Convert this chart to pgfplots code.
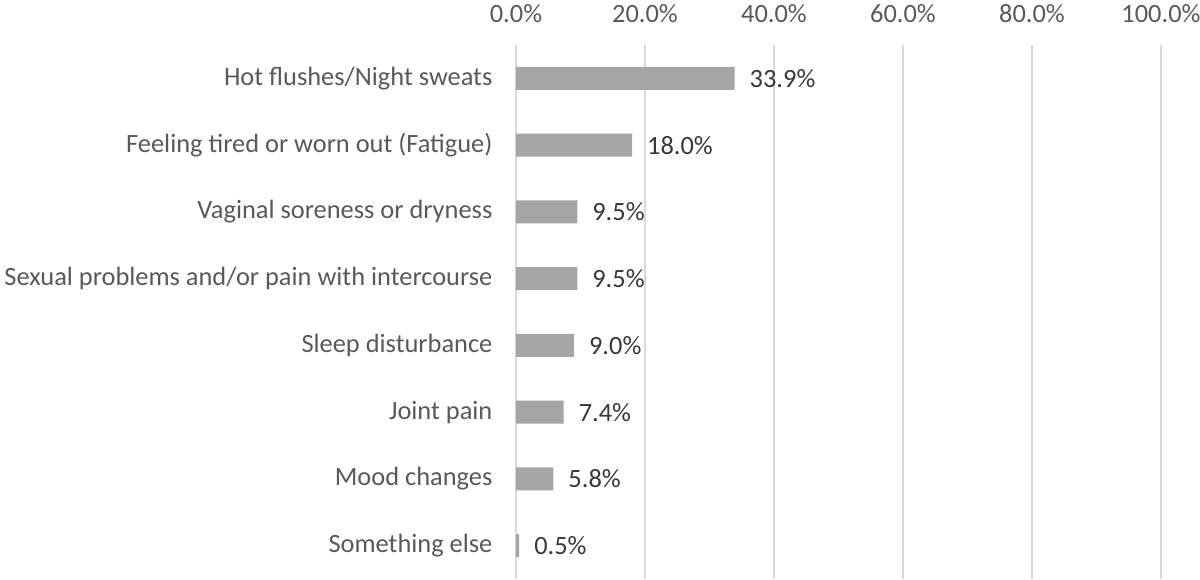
\documentclass[border=0pt]{standalone}
\usepackage{pgfplots}
\pgfplotsset{compat=1.18}
\usepackage{fontspec}
\setmainfont{Carlito}
\definecolor{bargray}{HTML}{A5A5A5}
\definecolor{gridgray}{HTML}{D9D9D9}
\definecolor{txtgray}{HTML}{595959}
\begin{document}
\begin{tikzpicture}
\begin{axis}[
    scale only axis,
    width=322.5pt, height=267pt,
    xbar, bar width=11.5pt,
    xmin=0, xmax=100,
    ymin=-0.5, ymax=7.5,
    xtick={0,20,40,60,80,100},
    xticklabel pos=top,
    xticklabel={\pgfmathprintnumber[fixed,fixed zerofill,precision=1]{\tick}\%},
    /pgf/number format/assume math mode=true,
    ytick={0,...,7},
    yticklabels={Something else, Mood changes, Joint pain, Sleep disturbance,
      Sexual problems and/or pain with intercourse, Vaginal soreness or dryness,
      Feeling tired or worn out (Fatigue), Hot flushes/Night sweats},
    xmajorgrids,
    grid style={gridgray, line width=0.9pt},
    axis line style={draw=none},
    major tick style={draw=none},
    tick label style={font=\fontsize{13.2}{15}\selectfont, text=txtgray},
    xticklabel style={yshift=7.5pt},
    yticklabel style={xshift=-4pt},
    nodes near coords={\pgfmathprintnumber[fixed,fixed zerofill,precision=1]{\pgfplotspointmeta}\%},
    nodes near coords style={font=\fontsize{13.2}{15}\selectfont, text=black!78, anchor=west, xshift=4pt},
    point meta=x,
]
\addplot[fill=bargray, draw=none] coordinates {
  (0.5,0) (5.8,1) (7.4,2) (9.0,3) (9.5,4) (9.5,5) (18.0,6) (33.9,7)
};
\end{axis}
\pgfresetboundingbox
\path[use as bounding box] (-258pt,0) rectangle (342pt,289.5pt);
\end{tikzpicture}
\end{document}
